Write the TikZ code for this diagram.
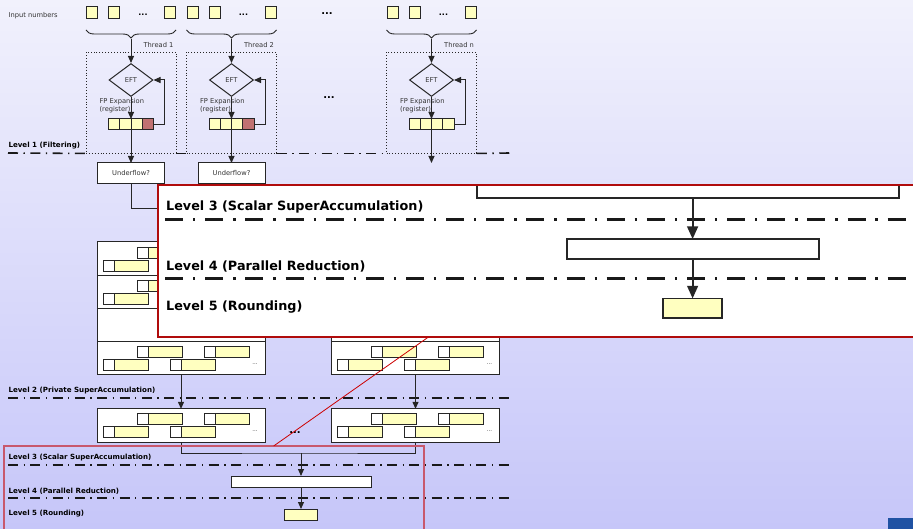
\documentclass[tikz,border=0pt]{standalone}
\usepackage{fontspec}
\setmainfont{DejaVu Sans}
\usetikzlibrary{arrows.meta, positioning, shapes.geometric, decorations.pathreplacing, spy}
\definecolor{slidetop}{RGB}{241,241,252}
\definecolor{slidebottom}{RGB}{198,198,249}
\definecolor{digityellow}{HTML}{FFFFC0}
\definecolor{carryred}{HTML}{C07272}
\definecolor{lensred}{HTML}{C8586C}
\definecolor{zoomred}{HTML}{B00C0C}
\definecolor{logoblue}{HTML}{1F52A3}

\newcommand\diagfont{\fontsize{6.7pt}{8.5pt}\selectfont}
\newcommand\tinyfont{\fontsize{5.5pt}{6pt}\selectfont}

% one superaccumulator digit: white tag + yellow word, top left at (#1,#2)
\newcommand\accdigit[2]{%
  \draw[cell] (#1,#2) rectangle ++(11,11);
  \draw[cell, fill=digityellow] (#1+11,#2) rectangle ++(34,11);}
% two staggered lines of digits in one accumulator row
\newcommand\rowdigits[1]{%
  \begin{scope}[shift={(#1.north west)}]
    \accdigit{40}{5} \accdigit{107}{5}
    \accdigit{6}{18} \accdigit{73}{18}
    \node[font=\tinyfont] at (158,22) {...};
  \end{scope}}

\begin{document}
\begin{tikzpicture}[x=1pt, y=-1pt,
    every node/.style={font=\diagfont, text=black!80},
    box/.style={rectangle, draw=black!85, fill=white, line width=1pt,
                inner sep=0pt, outer sep=0pt},
    cell/.style={draw=black!85, fill=white, line width=0.9pt},
    innum/.style={box, fill=digityellow, minimum width=11pt, minimum height=12pt},
    regcell/.style={box, fill=digityellow, minimum width=11.25pt, minimum height=11pt},
    accrow/.style={box, minimum width=168pt, minimum height=33.25pt},
    uflow/.style={box, minimum width=67pt, minimum height=21pt},
    threadbox/.style={rectangle, draw=black!85, dotted, line width=0.9pt,
                minimum width=90pt, minimum height=101pt},
    eft/.style={diamond, draw=black!85, line width=1pt, minimum width=44pt,
                minimum height=33pt, inner sep=0pt},
    curly/.style={decorate, decoration={brace, amplitude=8pt}, draw=black!85, line width=0.9pt},
    arrow/.style={-{Triangle[length=7pt, width=6pt]}, line width=1pt, black!85},
    link/.style={line width=1pt, black!85},
    levelline/.style={line width=1.6pt, black!90,
                dash pattern=on 10pt off 5.5pt on 1.3pt off 5.5pt},
    levellabel/.style={anchor=west, text=black,
                font=\bfseries\fontsize{7.1pt}{8pt}\selectfont},
    smalldots/.style={font=\bfseries\fontsize{8pt}{8pt}\selectfont, text=black},
    bigdots/.style={font=\bfseries\fontsize{10pt}{10pt}\selectfont, text=black},
  ]
  \useasboundingbox (0,0) rectangle (913,529);
  \shade[top color=slidetop, bottom color=slidebottom] (0,0) rectangle (913,529);
  \fill[logoblue] (888,518) rectangle (913,529);

  \begin{scope}[spy using outlines={rectangle, magnification=1.8,
        minimum width=756pt, minimum height=152pt},
      spy connection path={\draw[red!80!black, line width=0.8pt] (tikzspyonnode) -- (tikzspyinnode);}]

    \node[anchor=west] (inlabel) at (5,16) {Input numbers};

    % one filtering thread per group of inputs
    \foreach \t/\cx/\last in {1/131/carryred, 2/231.5/carryred, n/431.5/digityellow} {
      \foreach \dx in {-39,-17,39}
        \node[innum] at (\cx+\dx,13) {};
      \node[smalldots] at (\cx+12,14.5) {...};
      \draw[curly] (\cx+45,30) -- (\cx-45,30);
      \coordinate (tip\t) at (\cx,39);
      \node[anchor=east] at (\cx+46,45) {Thread \t};
      \node[threadbox] (thread\t) at (\cx,102.5) {};
      \node[eft] (eft\t) at (\cx,80) {EFT};
      \node[anchor=west, align=left] at (\cx-35,105.5) {FP Expansion\\(register)};
      \node[regcell] (reg\t-1) at (\cx-16.875,124.5) {};
      \node[regcell, right=0pt of reg\t-1] (reg\t-2) {};
      \node[regcell, right=0pt of reg\t-2] (reg\t-3) {};
      \node[regcell, fill=\last, right=0pt of reg\t-3] (reg\t-4) {};
      \draw[arrow] (tip\t) -- (eft\t);
      \draw[arrow] (eft\t) -- (reg\t-2.north east);
      \draw[arrow] (reg\t-4.east) -- ++(11,0) |- (eft\t.east);
    }
    \node[bigdots] at (327,14) {...};
    \node[bigdots] at (329,98) {...};

    % level 1
    \draw[levelline] (8,153) -- (thread1.south west);
    \draw[levelline] (thread1.south east) -- (thread2.south west);
    \draw[levelline] (thread2.south east) -- (threadn.south west);
    \draw[levelline] (threadn.south east) -- (510,153);
    \node[levellabel] at (5,146) {Level 1 (Filtering)};

    \node[uflow] (uf1) at (131,173.5) {Underflow?};
    \node[uflow] (uf2) at (231.5,173.5) {Underflow?};
    \coordinate (ufn) at (431.5,163);
    \draw[arrow] (reg1-2.south east) -- (uf1.north);
    \draw[arrow] (reg2-2.south east) -- (uf2.north);
    \draw[arrow] (regn-2.south east) -- (ufn);
    \coordinate (into1) at (200,209);
    \draw[link] (uf1.south) |- (into1);

    % private superaccumulators
    \node[accrow] (accL1) at (181,258.6) {};
    \node[accrow, below=0pt of accL1] (accL2) {};
    \node[accrow, below=0pt of accL2] (accL3) {};
    \node[accrow, below=0pt of accL3] (accL4) {};
    \node[accrow] (accR1) at (415.5,258.6) {};
    \node[accrow, below=0pt of accR1] (accR2) {};
    \node[accrow, below=0pt of accR2] (accR3) {};
    \node[accrow, below=0pt of accR3] (accR4) {};
    \foreach \n in {accL1, accL2, accL4, accR1, accR2, accR4} {
      \rowdigits{\n}
    }

    % level 2
    \draw[levelline] (8,398) -- (510,398);
    \node[levellabel] at (5,391) {Level 2 (Private SuperAccumulation)};

    \node[accrow] (lowL) at (181,425.5) {};
    \node[accrow] (lowR) at (415.5,425.5) {};
    \rowdigits{lowL}
    \rowdigits{lowR}
    \node[bigdots] at (295,433) {...};
    \draw[arrow] (accL4) -- (lowL);
    \draw[arrow] (accR4) -- (lowR);

    % levels 3 to 5
    \coordinate (merge) at (301,453);
    \draw[link] (lowL.south) |- (merge) -| (lowR.south);
    \draw[levelline] (8,465) -- (510,465);
    \node[levellabel] at (5,458) {Level 3 (Scalar SuperAccumulation)};

    \node[box, minimum width=140pt, minimum height=11pt] (reduce) at (301,481.5) {};
    \draw[levelline] (8,498) -- (510,498);
    \node[levellabel] at (5,491) {Level 4 (Parallel Reduction)};

    \node[box, fill=digityellow, minimum width=33pt, minimum height=11pt] (result) at (301,514.5) {};
    \node[levellabel] at (5,514) {Level 5 (Rounding)};
    \draw[arrow] (merge) -- (reduce);
    \draw[arrow] (reduce) -- (result);

    \spy[every spy on node/.append style={draw=lensred, line width=1.2pt}]
      on (214,488.2) in node[draw=zoomred, fill=white, line width=1.3pt] at (536,261);
  \end{scope}
\end{tikzpicture}
\end{document}
